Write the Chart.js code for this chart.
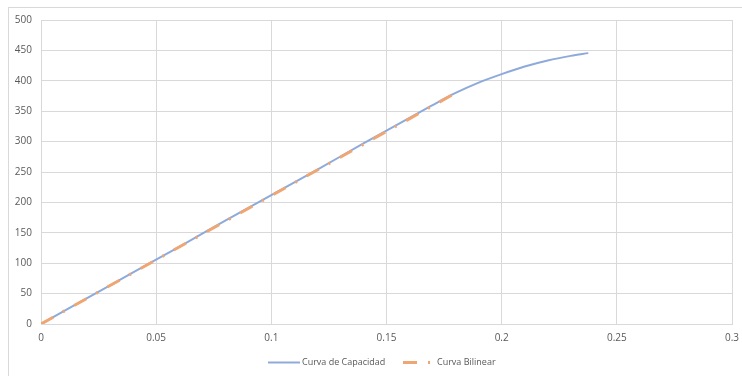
<!DOCTYPE html>
<html>
<head>
<meta charset="utf-8">
<script src="https://cdn.jsdelivr.net/npm/chart.js@4/dist/chart.umd.min.js"></script>
<style>
  html, body { margin: 0; padding: 0; background: #ffffff; }
  #wrap { width: 742px; height: 376px; position: relative; }
</style>
</head>
<body>
<div id="wrap"><canvas id="c" width="742" height="376"></canvas></div>
<script>
// Capacity curve: drift ratio vs base shear
const capDrift = [0, 0.02, 0.04, 0.06, 0.08, 0.10, 0.12, 0.14, 0.16, 0.17, 0.18, 0.19, 0.20, 0.21, 0.22, 0.23, 0.2376];
const capShear = [0, 42.4, 84.8, 127, 170, 212, 254, 297, 339, 360, 380, 397, 411, 423.5, 433.5, 441, 445.5];

// Bilinear idealisation
const bilDrift = [0, 0.181];
const bilShear = [0, 382];

const seriesNames = ['Curva de Capacidad', 'Curva Bilinear'];
const xTicks = [0, 0.05, 0.1, 0.15, 0.2, 0.25, 0.3];

const BLUE = '#8eaadb';
const ORANGE = '#f0a672';
const GRID = '#d9d9d9';
const TEXT = '#595959';
const BIL_DASH = [14, 11, 2, 11];

const toPoints = (xs, ys) => xs.map((x, i) => ({ x: x, y: ys[i] }));

const frameAndLegend = {
  id: 'frameAndLegend',
  beforeDraw(chart) {
    const ctx = chart.ctx;
    ctx.save();
    ctx.strokeStyle = GRID;
    ctx.lineWidth = 1;
    ctx.strokeRect(8.5, 7.5, 800, 400);
    ctx.restore();
  },
  afterDraw(chart) {
    const ctx = chart.ctx;
    const y = 362.5;
    ctx.save();
    ctx.font = '9px "Open Sans"';
    ctx.fillStyle = TEXT;
    ctx.textBaseline = 'middle';
    ctx.textAlign = 'left';

    ctx.strokeStyle = BLUE;
    ctx.lineWidth = 2;
    ctx.beginPath();
    ctx.moveTo(268, y);
    ctx.lineTo(300, y);
    ctx.stroke();
    ctx.fillText(seriesNames[0], 302, y);

    ctx.strokeStyle = ORANGE;
    ctx.lineWidth = 3;
    ctx.setLineDash(BIL_DASH);
    ctx.beginPath();
    ctx.moveTo(403, y);
    ctx.lineTo(432, y);
    ctx.stroke();
    ctx.setLineDash([]);
    ctx.fillText(seriesNames[1], 437, y);
    ctx.restore();
  }
};

new Chart(document.getElementById('c'), {
  type: 'scatter',
  data: {
    datasets: [
      {
        label: seriesNames[0],
        data: toPoints(capDrift, capShear),
        showLine: true,
        borderColor: BLUE,
        borderWidth: 2,
        pointRadius: 0,
        cubicInterpolationMode: 'monotone',
        order: 1
      },
      {
        label: seriesNames[1],
        data: toPoints(bilDrift, bilShear),
        showLine: true,
        borderColor: ORANGE,
        borderWidth: 3,
        borderDash: BIL_DASH,
        borderCapStyle: 'butt',
        pointRadius: 0,
        order: 0
      }
    ]
  },
  options: {
    responsive: false,
    animation: false,
    devicePixelRatio: 1,
    layout: { padding: { left: 9, top: 20, right: 10, bottom: 0 } },
    plugins: {
      legend: { display: false },
      tooltip: { enabled: false }
    },
    scales: {
      x: {
        type: 'linear',
        min: 0,
        max: 0.3,
        afterFit(scale) {
          scale.height = 52;
          scale.paddingLeft = 0;
          scale.paddingRight = 0;
        },
        afterBuildTicks(scale) { scale.ticks = xTicks.map(v => ({ value: v })); },
        grid: { color: GRID, drawTicks: false },
        border: { color: GRID },
        ticks: {
          padding: 8,
          color: TEXT,
          font: { family: 'Open Sans', size: 10 },
          callback: v => String(Math.round(v * 100) / 100)
        }
      },
      y: {
        min: 0,
        max: 500,
        afterFit(scale) {
          scale.width = 32;
          scale.paddingTop = 0;
          scale.paddingBottom = 0;
        },
        grid: { color: GRID, drawTicks: false },
        border: { color: GRID },
        ticks: {
          stepSize: 50,
          padding: 9,
          color: TEXT,
          font: { family: 'Open Sans', size: 10 }
        }
      }
    }
  },
  plugins: [frameAndLegend]
});
</script>
</body>
</html>
